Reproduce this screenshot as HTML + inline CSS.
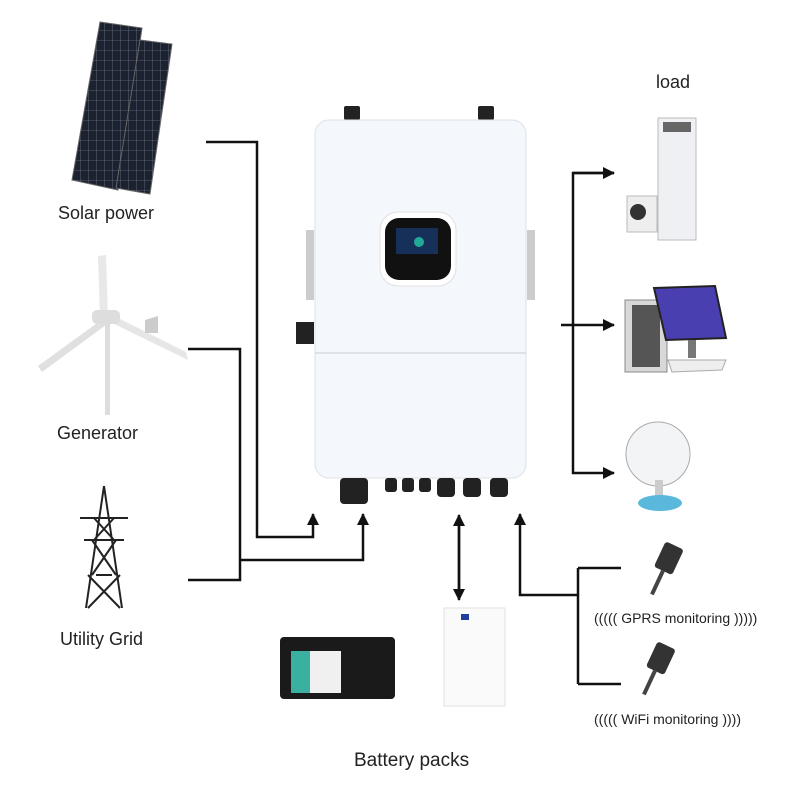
<!DOCTYPE html>
<html><head><meta charset="utf-8"><style>
html,body{margin:0;padding:0;background:#fff}
svg{display:block}
text{font-family:"Liberation Sans",sans-serif;fill:#222}
</style></head><body>
<svg width="800" height="800" viewBox="0 0 800 800" xmlns="http://www.w3.org/2000/svg">
<defs>
<marker id="ah" markerWidth="14" markerHeight="14" refX="11" refY="6" orient="auto" markerUnits="userSpaceOnUse"><path d="M0,0 L12,6 L0,12 z" fill="#111"/></marker>
<pattern id="cells" width="8" height="10" patternUnits="userSpaceOnUse"><rect width="8" height="10" fill="#1c2230"/><path d="M0,0H8M0,0V10" stroke="#8890a0" stroke-width="0.6"/></pattern>
</defs>

<polygon points="100,22 142,28 118,190 72,180" fill="url(#cells)" stroke="#666"/>
<polygon points="140,40 172,44 150,194 116,188" fill="url(#cells)" stroke="#666"/>
<text x="58" y="219" font-size="18">Solar power</text>

<rect x="105" y="320" width="5" height="95" fill="#ddd"/>
<polygon points="98,256 106,255 108,318 100,318" fill="#e8e8e8"/>
<polygon points="104,318 110,322 42,372 38,366" fill="#e0e0e0"/>
<polygon points="106,312 110,322 188,360 186,352" fill="#e6e6e6"/>
<rect x="92" y="310" width="28" height="14" rx="5" fill="#ddd"/>
<polygon points="145,320 158,316 158,333 145,333" fill="#ccc"/>
<text x="57" y="439" font-size="18">Generator</text>

<g stroke="#222" stroke-width="2" fill="none">
<path d="M104,486 L86,608 M104,486 L122,608"/>
<path d="M80,518 H128 M84,540 H124 M96,575 H112"/>
<path d="M94,518 L114,540 M114,518 L94,540 M92,540 L116,575 M116,540 L92,575 M88,575 L120,608 M120,575 L88,608"/>
</g>
<text x="60" y="645" font-size="18">Utility Grid</text>

<g stroke="#111" stroke-width="2.5" fill="none">
<path d="M206,142 H257 V537 H313 V514" marker-end="url(#ah)"/>
<path d="M188,349 H240 V580 H188"/>
<path d="M240,560 H363 V514" marker-end="url(#ah)"/>
<path d="M459,525 V600" marker-end="url(#ah)"/>
<path d="M459,590 V515" marker-end="url(#ah)"/>
<path d="M578,595 H520 V514" marker-end="url(#ah)"/>
<path d="M578,568 V684 M578,568 H621 M578,684 H621"/>
<path d="M561,325 H614" marker-end="url(#ah)"/>
<path d="M614,173 H573 V473 H614" marker-end="url(#ah)"/>
<path d="M573,173 H614" marker-end="url(#ah)"/>
</g>

<rect x="344" y="106" width="16" height="14" rx="2" fill="#222"/>
<rect x="478" y="106" width="16" height="14" rx="2" fill="#222"/>
<rect x="315" y="120" width="211" height="358" rx="14" fill="#f4f7fb" stroke="#dde2ea"/>
<line x1="315" y1="353" x2="526" y2="353" stroke="#c9ced6"/>
<rect x="306" y="230" width="8" height="70" fill="#ccc"/>
<rect x="527" y="230" width="8" height="70" fill="#ccc"/>
<rect x="296" y="322" width="18" height="22" fill="#222"/>
<rect x="380" y="212" width="76" height="74" rx="18" fill="#fff" stroke="#e0e0e0"/>
<rect x="385" y="218" width="66" height="62" rx="14" fill="#111"/>
<rect x="396" y="228" width="42" height="26" fill="#16305a"/>
<circle cx="419" cy="242" r="5" fill="#2a9"/>
<g fill="#222">
<rect x="340" y="478" width="28" height="26" rx="4"/>
<rect x="385" y="478" width="12" height="14" rx="3"/>
<rect x="402" y="478" width="12" height="14" rx="3"/>
<rect x="419" y="478" width="12" height="14" rx="3"/>
<rect x="437" y="478" width="18" height="19" rx="4"/>
<rect x="463" y="478" width="18" height="19" rx="4"/>
<rect x="490" y="478" width="18" height="19" rx="4"/>
</g>

<text x="656" y="88" font-size="18">load</text>
<rect x="658" y="118" width="38" height="122" fill="#eef0f3" stroke="#bbb"/>
<rect x="663" y="122" width="28" height="10" fill="#666"/>
<rect x="627" y="196" width="30" height="36" fill="#eee" stroke="#bbb"/>
<circle cx="638" cy="212" r="8" fill="#333"/>
<rect x="625" y="300" width="42" height="72" fill="#d8d8d8" stroke="#888"/>
<rect x="632" y="305" width="28" height="62" fill="#555"/>
<polygon points="654,288 715,286 726,338 666,340" fill="#4a3fb0" stroke="#222" stroke-width="2"/>
<rect x="688" y="340" width="8" height="18" fill="#777"/>
<polygon points="668,360 726,360 722,370 672,372" fill="#eee" stroke="#aaa"/>
<circle cx="658" cy="454" r="32" fill="#f2f4f6" stroke="#aaa"/>
<rect x="655" y="480" width="8" height="18" fill="#ccc"/>
<ellipse cx="660" cy="503" rx="22" ry="8" fill="#5ab8dc"/>

<g transform="translate(668,560) rotate(25)"><rect x="-10" y="-16" width="20" height="28" rx="3" fill="#333"/><rect x="-2" y="12" width="4" height="26" fill="#444"/></g>
<g transform="translate(660,660) rotate(25)"><rect x="-10" y="-16" width="20" height="28" rx="3" fill="#333"/><rect x="-2" y="12" width="4" height="26" fill="#444"/></g>
<text x="594" y="623" font-size="14">((((( GPRS monitoring )))))</text>
<text x="594" y="724" font-size="14">((((( WiFi monitoring ))))</text>

<rect x="280" y="637" width="115" height="62" rx="4" fill="#1a1a1a"/>
<rect x="291" y="651" width="50" height="42" fill="#3ab0a0"/>
<rect x="310" y="651" width="31" height="42" fill="#f0f0f0"/>
<rect x="444" y="608" width="61" height="98" fill="#fafafa" stroke="#e2e2e2"/>
<rect x="461" y="614" width="8" height="6" fill="#2040a0"/>
<text x="354" y="766" font-size="19">Battery packs</text>
</svg>
</body></html>
